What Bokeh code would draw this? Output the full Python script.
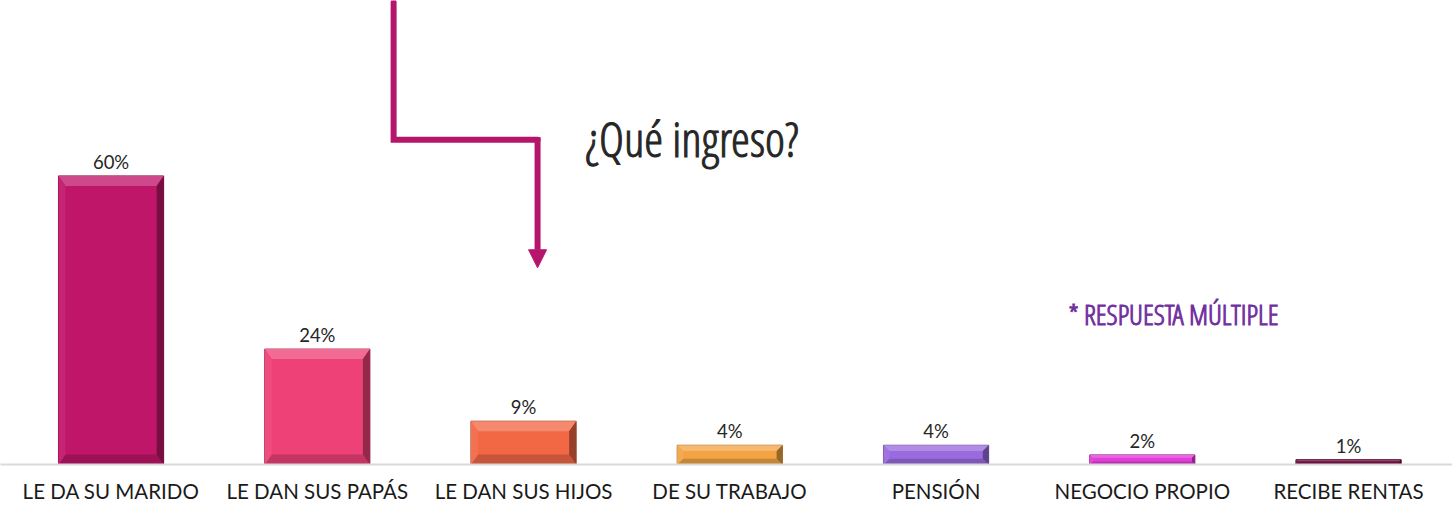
from bokeh.plotting import figure
from bokeh.models import Range1d, FixedTicker, Label, Arrow, NormalHead, ColumnDataSource
from bokeh.core.properties import value
from bokeh.embed import file_html
from bokeh.resources import INLINE

categories = ["LE DA SU MARIDO", "LE DAN SUS PAPÁS", "LE DAN SUS HIJOS", "DE SU TRABAJO",
              "PENSIÓN", "NEGOCIO PROPIO", "RECIBE RENTAS"]
values = [60, 24, 9, 4, 4, 2, 1]
labels = ["60%", "24%", "9%", "4%", "4%", "2%", "1%"]
colors = ["#C0166A", "#EE4177", "#F26845", "#F2A444", "#9A6BDE", "#E23ED8", "#6E1040"]
title_text = "¿Qué ingreso?"
note_text = "* RESPUESTA MÚLTIPLE"

W, H = 1452, 505
FRAME_H = 465
X0 = -0.036
X1 = X0 + W / 206.25
Y1 = FRAME_H / 4.82
px_x = W / (X1 - X0)
px_y = FRAME_H / Y1

LABEL_FONT = "Lato"
COND_FONT = "Open Sans Condensed Light, Open Sans Condensed, Lato"

p = figure(width=W, height=H, output_backend="svg", toolbar_location=None,
           x_range=Range1d(X0, X1), y_range=Range1d(0, Y1),
           min_border_left=0, min_border_right=0, min_border_top=0, min_border_bottom=0)
p.outline_line_color = None
p.grid.visible = False
p.yaxis.visible = False
p.background_fill_color = "white"
p.border_fill_color = "white"


def mix(c, t, f):
    a = [int(c[i:i + 2], 16) for i in (1, 3, 5)]
    b = [int(t[i:i + 2], 16) for i in (1, 3, 5)]
    return "#%02x%02x%02x" % tuple(int(round(a[k] + (b[k] - a[k]) * f)) for k in range(3))


xs = [i + 0.5 for i in range(len(categories))]
bw = 0.51

# bars (base)
p.vbar(x=xs, top=values, bottom=0, width=bw, fill_color=colors,
       line_color=[mix(c, "#000000", 0.35) for c in colors], line_width=1)

# bevel facets
tx, ty, cx = [], [], []
for x, v, c in zip(xs, values, colors):
    L, R, T, B = x - bw / 2, x + bw / 2, v, 0.0
    hpx = v * px_y
    sy = min(10.0, hpx * 0.3) / px_y
    sx = min(7.0, hpx * 0.3) / px_x
    tx.append([L, R, R - sx, L + sx]); ty.append([T, T, T - sy, T - sy]); cx.append(mix(c, "#ffffff", 0.22))
    tx.append([L, R, R - sx, L + sx]); ty.append([B, B, B + sy, B + sy]); cx.append(mix(c, "#000000", 0.18))
    tx.append([L, L, L + sx, L + sx]); ty.append([B, T, T - sy, B + sy]); cx.append(mix(c, "#ffffff", 0.06))
    tx.append([R, R, R - sx, R - sx]); ty.append([B, T, T - sy, B + sy]); cx.append(mix(c, "#000000", 0.38))
p.patches(xs=tx, ys=ty, fill_color=cx, line_color=None)

# value labels
src = ColumnDataSource(dict(x=xs, y=values, t=labels))
p.text(x="x", y="y", text="t", source=src, text_align="center", text_baseline="alphabetic",
       y_offset=-14, text_font=value(LABEL_FONT), text_font_size="18.5px", text_color="#262626")

# x axis
p.xaxis.ticker = FixedTicker(ticks=xs)
p.xaxis.major_label_overrides = {x: c for x, c in zip(xs, categories)}
p.xaxis.major_tick_line_color = None
p.xaxis.minor_tick_line_color = None
p.xaxis.major_tick_out = 0
p.xaxis.minor_tick_out = 0
p.xaxis.major_tick_in = 0
p.xaxis.minor_tick_in = 0
p.xaxis.axis_label_standoff = 0
p.xaxis.axis_line_color = "#D9D9D9"
p.xaxis.axis_line_width = 2
p.xaxis.major_label_standoff = 14
p.xaxis.major_label_text_font = LABEL_FONT
p.xaxis.major_label_text_font_size = "20.5px"
p.xaxis.major_label_text_color = "#1a1a1a"

# connector arrow
ax1, ax2 = 1.870, 2.568
ay_top, ay_mid, ay_tip = 96.1, 67.5, 40.9
acol = "#B5166B"
p.line(x=[ax1, ax1, ax2], y=[ay_top, ay_mid, ay_mid], line_color=acol, line_width=6,
       line_join="miter", line_cap="round")
p.add_layout(Arrow(x_start=ax2, y_start=ay_mid + 0.6, x_end=ax2, y_end=ay_tip,
                   line_color=acol, line_width=6,
                   end=NormalHead(size=18, fill_color=acol, line_color=acol, line_width=1)))

p.add_layout(Label(x=2.80, y=67.8, text=title_text, text_font=COND_FONT, text_font_size="48px",
                   text_color="#262626", text_outline_color="#262626", text_baseline="alphabetic"))
p.add_layout(Label(x=5.142, y=31.3, text=note_text, text_font=COND_FONT, text_font_size="28px",
                   text_color="#7030A0", text_outline_color="#7030A0", text_baseline="alphabetic"))

open("out.html", "w").write(file_html(p, INLINE))
